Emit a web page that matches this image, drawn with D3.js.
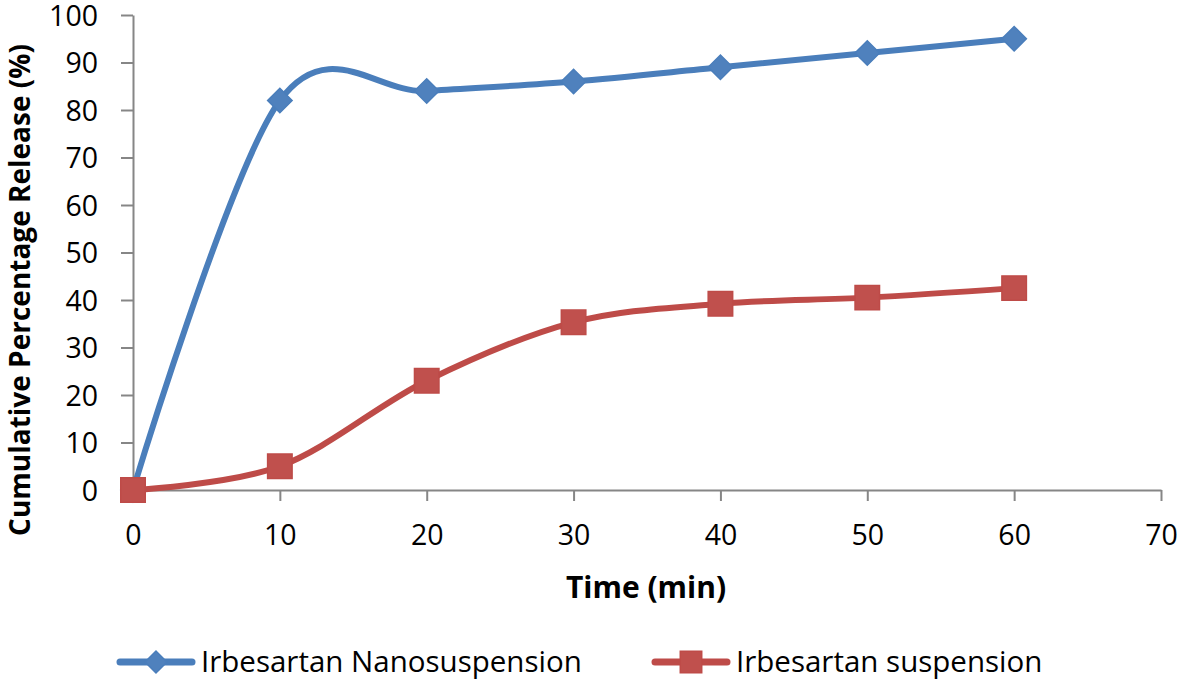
<!DOCTYPE html>
<html>
<head>
<meta charset="utf-8">
<script src="https://cdn.jsdelivr.net/npm/d3@7"></script>
<style>
  body { margin: 0; background: #fff; }
  svg { display: block; font-family: "Open Sans", sans-serif; }
</style>
</head>
<body>
<div id="chart"></div>
<script>
// data
var times = [0, 10, 20, 30, 40, 50, 60];
var nanoRelease = [0, 82, 84, 86, 89, 92, 95];
var suspRelease = [0, 5, 23, 35.3, 39.2, 40.5, 42.5];
var xTicks = [0, 10, 20, 30, 40, 50, 60, 70];
var yTicks = [0, 10, 20, 30, 40, 50, 60, 70, 80, 90, 100];
var seriesNames = ["Irbesartan Nanosuspension", "Irbesartan suspension"];

var W = 1181, H = 684;
var blue = "#4A7EBB", red = "#BE4B48";
var axisCol = "#868686";

var svg = d3.select("#chart").append("svg")
  .attr("width", W).attr("height", H);

var x = d3.scaleLinear().domain([0, 70]).range([133, 1161]);
var y = d3.scaleLinear().domain([0, 100]).range([490, 15]);

// axes
var yAxis = svg.append("g")
  .attr("transform", "translate(" + x(0) + ",0)")
  .call(d3.axisLeft(y).tickValues(yTicks).tickSize(12).tickSizeOuter(0).tickPadding(23));
var xAxis = svg.append("g")
  .attr("transform", "translate(0," + y(0) + ")")
  .call(d3.axisBottom(x).tickValues(xTicks).tickSize(11).tickSizeOuter(0).tickPadding(24));

[xAxis, yAxis].forEach(function(a) {
  a.selectAll("path, line").attr("stroke", axisCol).attr("stroke-width", 2);
  a.selectAll("text").attr("fill", "#000").style("font-size", "28.5px")
    .style("font-family", "'Open Sans', sans-serif");
});
yAxis.selectAll("text").attr("dy", "0.36em");

// axis titles
svg.append("text")
  .attr("x", 646).attr("y", 598)
  .attr("text-anchor", "middle")
  .style("font-size", "30px").style("font-weight", "bold")
  .text("Time (min)");

svg.append("text")
  .attr("transform", "translate(30,290) rotate(-90)")
  .attr("text-anchor", "middle")
  .style("font-size", "28px").style("font-weight", "bold")
  .text("Cumulative Percentage Release (%)");

// lines
var line = d3.line()
  .x(function(d) { return x(d[0]); })
  .y(function(d) { return y(d[1]); })
  .curve(d3.curveCardinal.tension(0));

var nanoData = times.map(function(t, i) { return [t, nanoRelease[i]]; });
var suspData = times.map(function(t, i) { return [t, suspRelease[i]]; });

svg.append("path").datum(nanoData)
  .attr("d", line).attr("fill", "none")
  .attr("stroke", blue).attr("stroke-width", 6).attr("stroke-linecap", "round");
svg.append("path").datum(suspData)
  .attr("d", line).attr("fill", "none")
  .attr("stroke", red).attr("stroke-width", 6).attr("stroke-linecap", "round");

// markers
var diamond = d3.symbol().type(d3.symbolSquare).size(300);
var square = d3.symbol().type(d3.symbolSquare).size(600);

svg.selectAll(".nano").data(nanoData).enter().append("path")
  .attr("class", "nano")
  .attr("d", diamond)
  .attr("transform", function(d) { return "translate(" + x(d[0]) + "," + y(d[1]) + ") rotate(45)"; })
  .attr("fill", "#4F81BD").attr("stroke", blue).attr("stroke-width", 1.5);

svg.selectAll(".susp").data(suspData).enter().append("path")
  .attr("class", "susp")
  .attr("d", square)
  .attr("transform", function(d) { return "translate(" + x(d[0]) + "," + y(d[1]) + ")"; })
  .attr("fill", "#C0504D").attr("stroke", red).attr("stroke-width", 1.5);

// legend
var legend = svg.append("g");
var lg = [
  { x0: 120, name: seriesNames[0], col: blue, fill: "#4F81BD", sym: d3.symbol().type(d3.symbolSquare).size(240), rot: 45 },
  { x0: 655, name: seriesNames[1], col: red, fill: "#C0504D", sym: d3.symbol().type(d3.symbolSquare).size(460), rot: 0 }
];
lg.forEach(function(l) {
  legend.append("line")
    .attr("x1", l.x0).attr("x2", l.x0 + 72)
    .attr("y1", 662).attr("y2", 662)
    .attr("stroke", l.col).attr("stroke-width", 7).attr("stroke-linecap", "round");
  legend.append("path")
    .attr("d", l.sym)
    .attr("transform", "translate(" + (l.x0 + 36) + ",662) rotate(" + l.rot + ")")
    .attr("fill", l.fill).attr("stroke", l.col).attr("stroke-width", 1.5);
  legend.append("text")
    .attr("x", l.x0 + 81).attr("y", 662)
    .attr("dy", "0.35em")
    .style("font-size", "29.5px")
    .text(l.name);
});
</script>
</body>
</html>
